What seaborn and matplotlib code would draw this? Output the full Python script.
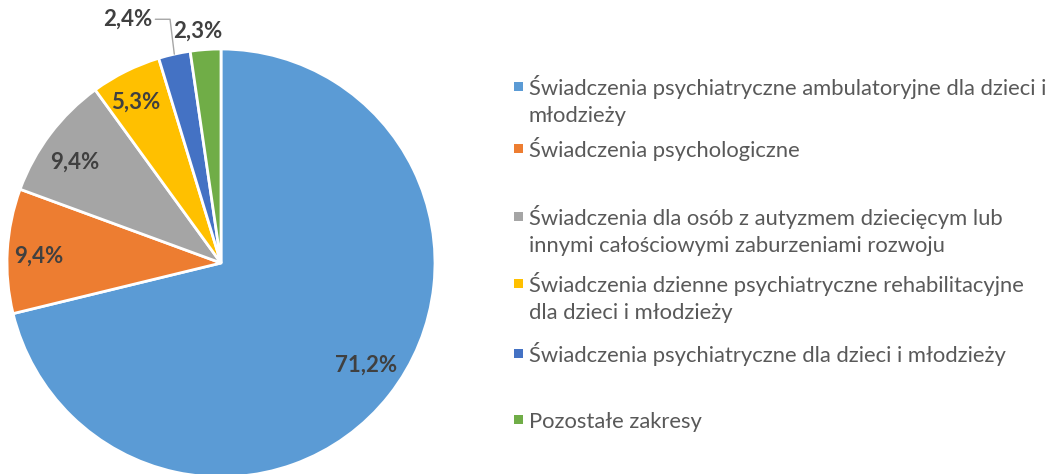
import matplotlib
matplotlib.use("Agg")
import matplotlib.pyplot as plt
from matplotlib.patches import Rectangle
import numpy as np
import seaborn as sns

categories = [
    "Świadczenia psychiatryczne ambulatoryjne dla dzieci i\nmłodzieży",
    "Świadczenia psychologiczne",
    "Świadczenia dla osób z autyzmem dziecięcym lub\ninnymi całościowymi zaburzeniami rozwoju",
    "Świadczenia dzienne psychiatryczne rehabilitacyjne\ndla dzieci i młodzieży",
    "Świadczenia psychiatryczne dla dzieci i młodzieży",
    "Pozostałe zakresy",
]
shares = [71.2, 9.4, 9.4, 5.3, 2.4, 2.3]
value_labels = ["71,2%", "9,4%", "9,4%", "5,3%", "2,4%", "2,3%"]
colors = ["#5B9BD5", "#ED7D31", "#A5A5A5", "#FFC000", "#4472C4", "#70AD47"]

# label placement (radius in pie units, angular nudge in degrees)
label_r = [0.83, 0.85, 0.83, 0.85, 1.22, 1.09]
label_shift = [3.0, 1.2, 2.7, 1.5, 8.4, 1.5]
leader = [False, False, False, False, True, False]

# legend layout in pixels (first-line baselines)
legend_baselines = [95, 157, 225, 292, 362, 428]
legend_text_x = 529
line_step = 27

sns.set_theme(style="white")
plt.rcParams["font.family"] = ["Lato", "DejaVu Sans"]

W, H = 1057, 474
fig = plt.figure(figsize=(W / 100, H / 100), dpi=100)
cx, cy, rad = 221, 263, 214
ax = fig.add_axes([(cx - rad) / W, (H - cy - rad) / H, 2 * rad / W, 2 * rad / H])

wedges, _ = ax.pie(
    shares,
    colors=colors,
    startangle=90,
    counterclock=False,
    wedgeprops=dict(edgecolor="white", linewidth=2),
)
ax.set_xlim(-1, 1)
ax.set_ylim(-1, 1)
ax.set_aspect("equal")
ax.axis("off")

for w, lab, r, s, lead in zip(wedges, value_labels, label_r, label_shift, leader):
    mid = (w.theta1 + w.theta2) / 2
    a = np.deg2rad(mid + s)
    x, y = r * np.cos(a), r * np.sin(a)
    if lead:
        m = np.deg2rad(mid)
        ax.annotate(
            lab,
            xy=(np.cos(m), np.sin(m)),
            xytext=(x, y),
            ha="center",
            va="center",
            fontsize=16,
            fontweight="bold",
            color="#404040",
            annotation_clip=False,
            arrowprops=dict(
                arrowstyle="-",
                color="#A6A6A6",
                lw=1,
                shrinkA=0,
                shrinkB=0,
                connectionstyle="angle,angleA=0,angleB=97,rad=0",
            ),
        )
    else:
        ax.text(x, y, lab, ha="center", va="center", fontsize=16,
                fontweight="bold", color="#404040", clip_on=False)

# legend drawn as text lines with square markers
for lab, col, base in zip(categories, colors, legend_baselines):
    fig.add_artist(Rectangle(((legend_text_x - 15) / W, (H - base + 4) / H),
                             9 / W, 9 / H, transform=fig.transFigure,
                             facecolor=col, edgecolor="none"))
    for i, line in enumerate(lab.split("\n")):
        fig.text(legend_text_x / W, (H - base - i * line_step) / H, line,
                 ha="left", va="baseline", fontsize=15.8, color="#595959")

fig.savefig("out.png", dpi=100)
